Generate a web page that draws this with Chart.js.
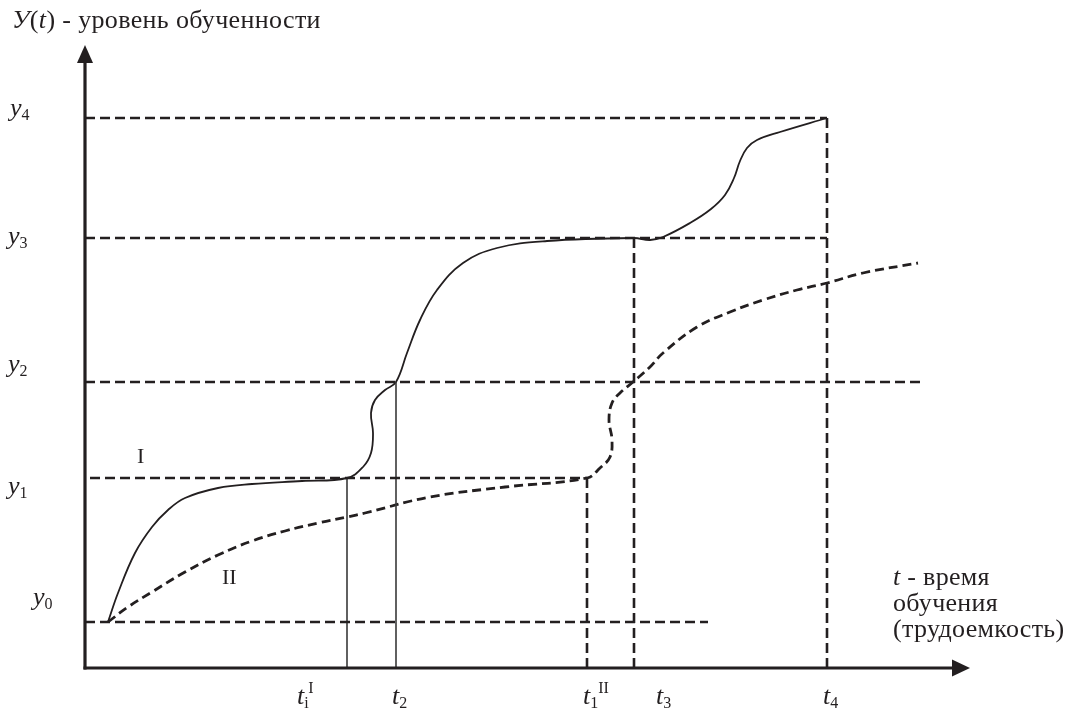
<!DOCTYPE html>
<html><head><meta charset="utf-8">
<script src="https://cdn.jsdelivr.net/npm/chart.js@4.4.1/dist/chart.umd.min.js"></script>
<style>html,body{margin:0;padding:0;background:#fff;overflow:hidden}canvas{display:block}</style>
</head><body>
<canvas id="c" width="1068" height="711"></canvas>
<script>
// ---- schematic data (t = time units, y = learning level units) ----
const tMax = 885, yMax = 623;
const levelSubs  = ['0', '1', '2', '3', '4'];
const levels     = [46, 190, 286, 430, 550];
const levelStart = [0, 5, 0, 0, 0];
const levelEnd   = [623, 502, 837, 742, 742];

const timeSubs  = ['i', '2', '1', '3', '4'];
const timeSups  = ['I', '', 'II', '', ''];
const timeMarks = [262, 311, 502, 549, 742];
const timeTops  = [190, 286, 190, 430, 550];

const curveI_t = [23,33,50,67,83,100,133,167,217,262,278,286,288,286,290,300,311,322,335,352,378,412,462,549,565,578,605,626,640,649,655,662,672,695,742];
const curveI_y = [46,75,115,141,158,170,180,184,187,190,201,215,235,255,268,278,286,315,348,378,405,420,427,430,428,431,445,459,473,490,507,520,528,536,550];

const curveII_t = [23,43,67,100,133,167,200,233,262,280,345,420,502,515,525,527,524,527,535,548,565,578,612,645,678,712,742,778,833];
const curveII_y = [46,61,76,96,113,127,137,145,151,155,171,181,190,200,211,228,248,265,275,286,301,315,341,356,368,378,385,395,405];

const titleText = ') - уровень обученности';
const xTitleLines = [' - время', 'обучения', '(трудоемкость)'];
const curveNames = ['I', 'II'];

const INK = '#231f20';
const SERIF = '"Liberation Serif", "Times New Roman", serif';
const pts = (xs, ys) => xs.map((x, i) => ({x, y: ys[i]}));

const datasets = [];
levels.forEach((lv, i) => datasets.push({
  data: [{x: levelStart[i], y: lv}, {x: levelEnd[i], y: lv}],
  borderColor: INK, borderWidth: 2.6, borderDash: [10, 5], pointRadius: 0, tension: 0
}));
timeMarks.forEach((tm, i) => {
  const dashed = i >= 2;
  datasets.push({
    data: [{x: tm, y: timeTops[i]}, {x: tm, y: 0}],
    borderColor: dashed ? INK : '#3a3a3a', borderWidth: dashed ? 2.6 : 1.6,
    borderDash: dashed ? [10, 5] : [], pointRadius: 0, tension: 0
  });
});
datasets.push({data: pts(curveI_t, curveI_y), borderColor: INK, borderWidth: 1.8, pointRadius: 0, tension: 0.4});
datasets.push({data: pts(curveII_t, curveII_y), borderColor: INK, borderWidth: 2.8, borderDash: [9, 5], pointRadius: 0, tension: 0.4});

function rich(ctx, x, y, parts) {
  parts.forEach(p => {
    ctx.font = p.f;
    ctx.fillText(p.t, x, y + (p.dy || 0));
    x += ctx.measureText(p.t).width + (p.dx || 0);
  });
}
const F = (s, it) => (it ? 'italic ' : '') + s + 'px ' + SERIF;

const decor = {
  id: 'decor',
  afterDatasetsDraw(chart) {
    const ctx = chart.ctx, xs = chart.scales.x, ys = chart.scales.y;
    const x0 = xs.getPixelForValue(0), y0 = ys.getPixelForValue(0);
    const xEnd = xs.getPixelForValue(tMax), yEnd = ys.getPixelForValue(yMax);
    ctx.save();
    ctx.strokeStyle = INK; ctx.fillStyle = INK; ctx.lineWidth = 3.2;
    // axes
    ctx.beginPath(); ctx.moveTo(x0, y0 + 1.5); ctx.lineTo(x0, yEnd + 14); ctx.stroke();
    ctx.beginPath(); ctx.moveTo(x0 - 1.5, y0); ctx.lineTo(xEnd - 14, y0); ctx.stroke();
    // arrowheads
    ctx.beginPath(); ctx.moveTo(x0, yEnd); ctx.lineTo(x0 - 8, yEnd + 18); ctx.lineTo(x0 + 8, yEnd + 18); ctx.closePath(); ctx.fill();
    ctx.beginPath(); ctx.moveTo(xEnd, y0); ctx.lineTo(xEnd - 18, y0 - 8.5); ctx.lineTo(xEnd - 18, y0 + 8.5); ctx.closePath(); ctx.fill();

    ctx.textBaseline = 'alphabetic';
    // title
    ctx.letterSpacing = '0.35px';
    rich(ctx, 12, 28, [{t: 'У', f: F(26, true)}, {t: '(', f: F(26)}, {t: 't', f: F(26, true)}, {t: titleText, f: F(26)}]);
    ctx.letterSpacing = '0px';
    // y level labels
    const yLX = [33, 8, 8, 8, 10];
    const yLDY = [-17, 16, -10, 6, -2];
    levels.forEach((lv, i) => {
      rich(ctx, yLX[i], ys.getPixelForValue(lv) + yLDY[i], [{t: 'y', f: F(26, true), dx: 0}, {t: levelSubs[i], f: F(16), dy: 4}]);
    });
    // t labels
    const tLDX = [-50, -4, -4, 22, -4];
    timeMarks.forEach((tm, i) => {
      const px = xs.getPixelForValue(tm) + tLDX[i];
      ctx.font = F(26, true); ctx.fillText('t', px, 704);
      const w = ctx.measureText('t').width;
      ctx.font = F(16); ctx.fillText(timeSubs[i], px + w, 708);
      if (timeSups[i]) { ctx.fillText(timeSups[i], px + w + (i === 0 ? 4 : 8), 693); }
    });
    // x-axis title
    ctx.letterSpacing = '0.3px';
    rich(ctx, 893, 585, [{t: 't', f: F(26, true)}, {t: xTitleLines[0], f: F(26)}]);
    ctx.font = F(26); ctx.fillText(xTitleLines[1], 893, 611); ctx.fillText(xTitleLines[2], 893, 637);
    ctx.letterSpacing = '0px';
    // curve names
    ctx.font = F(22); ctx.fillText(curveNames[0], 137, 463); ctx.fillText(curveNames[1], 222, 584);
    ctx.restore();
  }
};

new Chart(document.getElementById('c'), {
  type: 'scatter',
  data: {datasets: datasets.map(d => Object.assign({showLine: true, fill: false}, d))},
  options: {
    responsive: false, animation: false, devicePixelRatio: 1,
    layout: {padding: {left: 85, right: 98, top: 45, bottom: 43}},
    plugins: {legend: {display: false}, tooltip: {enabled: false}},
    scales: {
      x: {type: 'linear', display: false, min: 0, max: tMax},
      y: {type: 'linear', display: false, min: 0, max: yMax}
    }
  },
  plugins: [decor]
});
</script>
</body></html>
